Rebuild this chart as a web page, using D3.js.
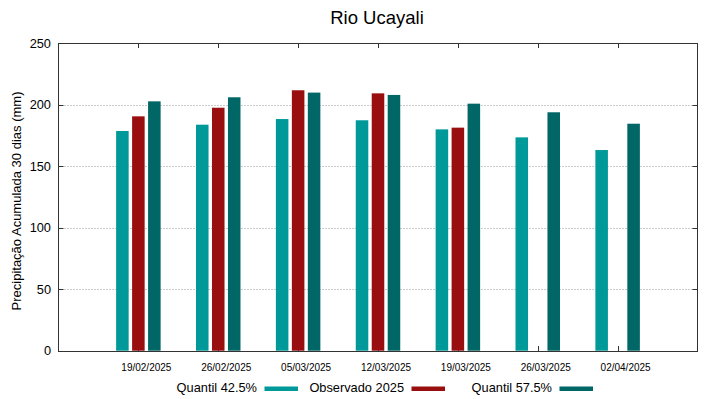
<!DOCTYPE html>
<html>
<head>
<meta charset="utf-8">
<script src="https://cdn.jsdelivr.net/npm/d3@7"></script>
<style>
  body { margin: 0; background: #fff; }
  text { font-family: "Liberation Sans", Arial, sans-serif; fill: #000; }
</style>
</head>
<body>
<svg id="myGraph" width="719" height="399"></svg>
<script>
var svgWidth = 719;
var svgHeight = 399;
// data
var dates = ["19/02/2025", "26/02/2025", "05/03/2025", "12/03/2025", "19/03/2025", "26/03/2025", "02/04/2025"];
var quantil425 = [178.7, 183.8, 188.4, 187.4, 180.0, 173.5, 163.2];
var observado = [190.6, 197.6, 211.8, 209.3, 181.4, null, null];
var quantil575 = [202.8, 206.1, 209.9, 208.0, 200.9, 193.9, 184.6];
var yTicks = [0, 50, 100, 150, 200, 250];
var seriesNames = ["Quantil 42.5%", "Observado 2025", "Quantil 57.5%"];
var seriesColors = ["#009999", "#990f0f", "#006666"];
var seriesValues = [quantil425, observado, quantil575];

var svg = d3.select("#myGraph");

// scales
var x = d3.scaleLinear().domain([-1, dates.length]).range([58.5, 697.5]);
var y = d3.scaleLinear().domain([0, 250]).range([350.7, 43.3]);
var offsets = [-0.2, 0, 0.2];
var barW = 0.157;

var x0 = x.range()[0], x1 = x.range()[1], y0 = Math.round(y(0)), y1 = Math.round(y(250));

// grid
svg.append("g").selectAll("line")
  .data(yTicks.filter(function(d) { return d > 0 && d < 250; }))
  .enter().append("line")
  .attr("x1", x0).attr("x2", x1)
  .attr("y1", function(d) { return Math.round(y(d)) + 0.5; })
  .attr("y2", function(d) { return Math.round(y(d)) + 0.5; })
  .attr("stroke", "#999").attr("stroke-width", 1)
  .attr("stroke-dasharray", "1,2");

// inner ticks (under the bars)
var tickG = svg.append("g").attr("stroke", "#333");
dates.forEach(function(d, i) {
  var xx = Math.round(x(i)) + 0.5;
  tickG.append("line").attr("x1", xx).attr("x2", xx).attr("y1", y1).attr("y2", y1 + 5);
  tickG.append("line").attr("x1", xx).attr("x2", xx).attr("y1", y0).attr("y2", y0 - 5);
});
yTicks.forEach(function(t) {
  var yy = Math.round(y(t)) + 0.5;
  tickG.append("line").attr("x1", x1).attr("x2", x1 - 5).attr("y1", yy).attr("y2", yy);
  tickG.append("line").attr("x1", x0).attr("x2", x0 + 5).attr("y1", yy).attr("y2", yy);
});

// bars
seriesValues.forEach(function(vals, s) {
  svg.append("g").selectAll("rect")
    .data(vals)
    .enter().filter(function(d) { return d != null; })
    .append("rect")
    .attr("x", function(d, i) { return x(i + offsets[s] - barW / 2); })
    .attr("width", function() { return x(barW) - x(0); })
    .attr("y", function(d) { return y(d); })
    .attr("height", function(d) { return y(0) - y(d); })
    .attr("fill", seriesColors[s]);
});

// frame
svg.append("rect")
  .attr("x", x0).attr("y", y1 + 0.5)
  .attr("width", x1 - x0).attr("height", y0 - y1)
  .attr("fill", "none").attr("stroke", "#333").attr("stroke-width", 1);

// y tick labels
svg.append("g").selectAll("text")
  .data(yTicks).enter().append("text")
  .attr("x", 51).attr("y", function(d) { return y(d); })
  .attr("dy", "0.36em")
  .attr("text-anchor", "end")
  .style("font-size", "12.8px")
  .text(function(d) { return d; });

// x tick labels
svg.append("g").selectAll("text")
  .data(dates).enter().append("text")
  .attr("x", function(d, i) { return x(i) + 8; })
  .attr("y", 371)
  .attr("text-anchor", "middle")
  .style("font-size", "10px")
  .text(function(d) { return d; });

// title
svg.append("text")
  .attr("x", 377).attr("y", 24)
  .attr("text-anchor", "middle")
  .style("font-size", "18.5px")
  .text("Rio Ucayali");

// y axis title
svg.append("text")
  .attr("transform", "translate(21," + ((y0 + y1) / 2 + 4) + ") rotate(-90)")
  .attr("text-anchor", "middle")
  .style("font-size", "13px")
  .text("Precipitação Acumulada 30 dias (mm)");

// legend
var legendTextRight = [257, 404, 552];
var legend = svg.append("g").selectAll("g")
  .data(seriesNames).enter().append("g");
legend.append("text")
  .attr("x", function(d, i) { return legendTextRight[i]; })
  .attr("y", 392)
  .attr("text-anchor", "end")
  .style("font-size", "12.8px")
  .text(function(d) { return d; });
legend.append("rect")
  .attr("x", function(d, i) { return legendTextRight[i] + 7.5; })
  .attr("y", 386.5)
  .attr("width", 33.5).attr("height", 4.5)
  .attr("fill", function(d, i) { return seriesColors[i]; });
</script>
</body>
</html>
